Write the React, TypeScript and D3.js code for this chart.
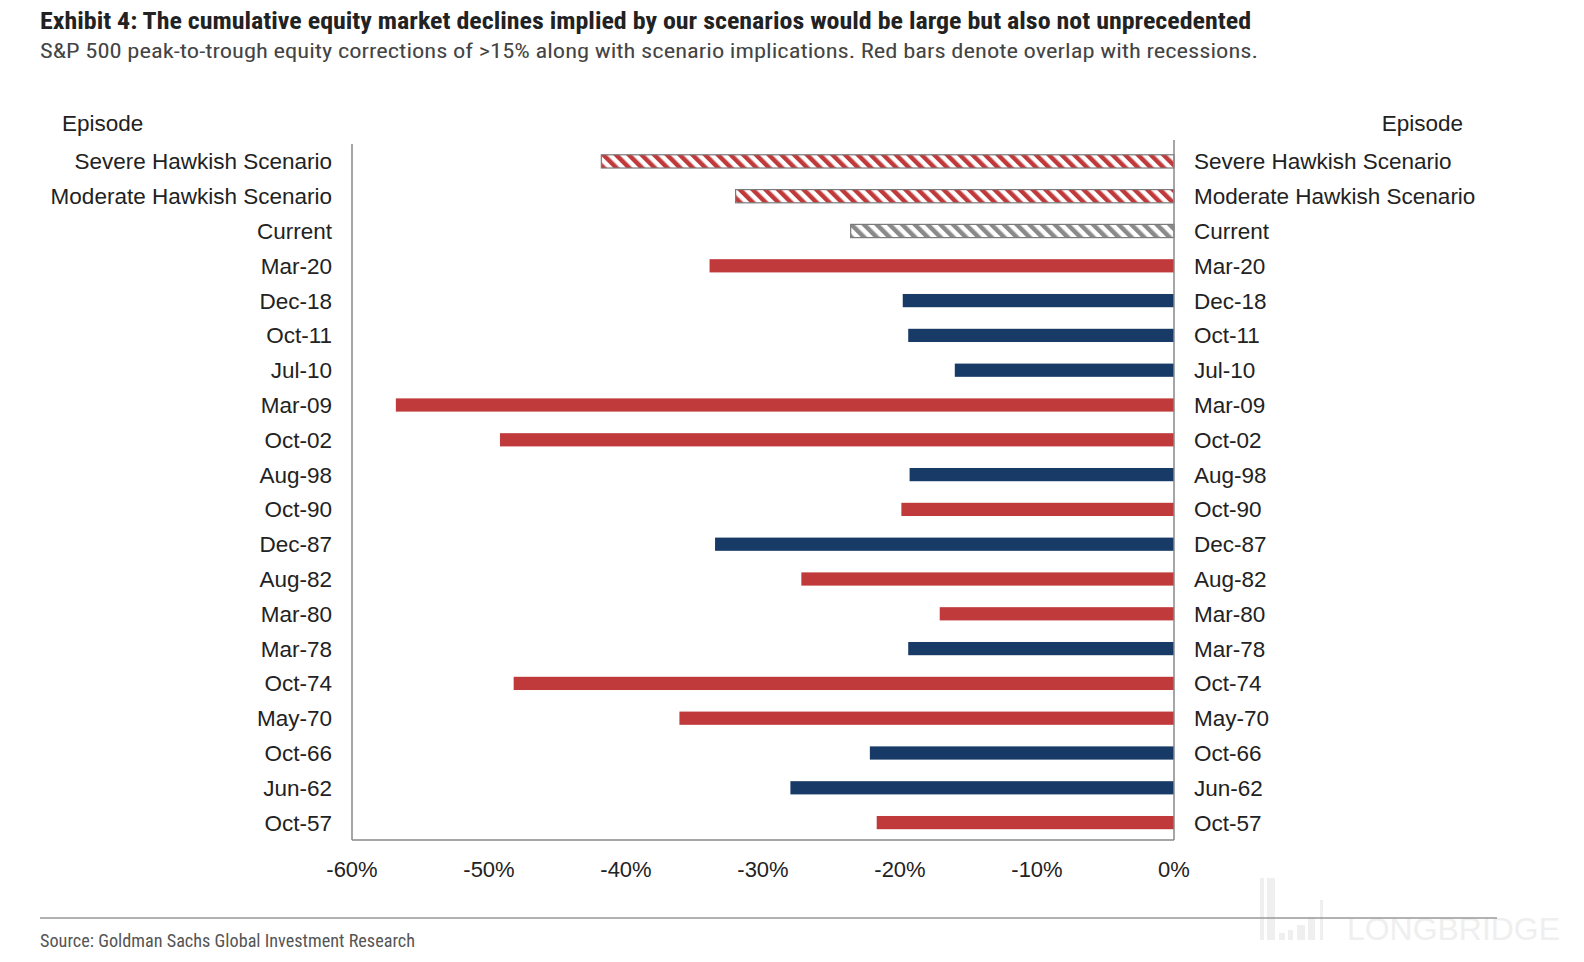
import React from 'react'
import * as d3 from 'd3'

// episodes, top to bottom
const episodes = [
  'Severe Hawkish Scenario', 'Moderate Hawkish Scenario', 'Current',
  'Mar-20', 'Dec-18', 'Oct-11', 'Jul-10', 'Mar-09', 'Oct-02', 'Aug-98',
  'Oct-90', 'Dec-87', 'Aug-82', 'Mar-80', 'Mar-78', 'Oct-74', 'May-70',
  'Oct-66', 'Jun-62', 'Oct-57'
]
// peak-to-trough decline, %
const declines = [
  -41.8, -32.0, -23.6,
  -33.9, -19.8, -19.4, -16.0, -56.8, -49.2, -19.3,
  -19.9, -33.5, -27.2, -17.1, -19.4, -48.2, -36.1,
  -22.2, -28.0, -21.7
]
// kind: scenario (hatched red), current (hatched grey), recession (red), none (navy)
const kinds = [
  'scenario', 'scenario', 'current',
  'recession', 'none', 'none', 'none', 'recession', 'recession', 'none',
  'recession', 'none', 'recession', 'recession', 'none', 'recession', 'recession',
  'none', 'none', 'recession'
]
const xTicks = [-60, -50, -40, -30, -20, -10, 0]

const W = 1584
const H = 962
const plot = { left: 352, right: 1174, top: 144, bottom: 840 }
const RED = '#c0393b'
const NAVY = '#173a66'
const LABEL_FONT = 'Liberation Sans, Arial, sans-serif'
const NARROW_FONT = '"Liberation Sans Narrow", "Roboto Condensed", "DejaVu Sans Condensed", sans-serif'

export default function App() {
  const x = d3.scaleLinear().domain([-60, 0]).range([plot.left, plot.right])
  const y = d3.scaleBand<string>().domain(episodes).range([plot.top, plot.bottom]).paddingInner(0.62).paddingOuter(0.31)
  const bh = y.bandwidth()

  const fillFor = (k: string) =>
    k === 'scenario' ? 'url(#hatchRed)' : k === 'current' ? 'url(#hatchGrey)' : k === 'recession' ? RED : NAVY

  return (
    <div style={{ position: 'fixed', left: 0, top: 0, right: 0, bottom: 0, overflow: 'hidden', background: '#fff' }}>
      <svg width="100%" height="100%" viewBox={`0 0 ${W} ${H}`} preserveAspectRatio="none" style={{ display: 'block' }}>
        <defs>
          <pattern id="hatchRed" patternUnits="userSpaceOnUse" width={9} height={9} patternTransform="rotate(-45)">
            <rect width={9} height={9} fill="#fff" />
            <rect width={4.5} height={9} fill={RED} />
          </pattern>
          <pattern id="hatchGrey" patternUnits="userSpaceOnUse" width={9} height={9} patternTransform="rotate(-45)">
            <rect width={9} height={9} fill="#fff" />
            <rect width={4.5} height={9} fill="#8a8a8a" />
          </pattern>
        </defs>
        <rect width={W} height={H} fill="#fff" />

        {/* title block */}
        <text x={40} y={29} fontFamily={NARROW_FONT} fontWeight="bold" fontSize={24} fill="#222"
          textLength={1211} lengthAdjust="spacingAndGlyphs">
          Exhibit 4: The cumulative equity market declines implied by our scenarios would be large but also not unprecedented
        </text>
        <text x={40} y={58} fontFamily={NARROW_FONT} fontSize={21} fill="#444"
          textLength={1218} lengthAdjust="spacingAndGlyphs">
          S&amp;P 500 peak-to-trough equity corrections of &gt;15% along with scenario implications. Red bars denote overlap with recessions.
        </text>

        {/* watermark */}
        <g fill="#efefef">
          <rect x={1260} y={878} width={4} height={62} />
          <rect x={1267} y={878} width={8} height={62} />
          <rect x={1279} y={933} width={6} height={7} />
          <rect x={1288} y={930} width={5} height={10} />
          <rect x={1297} y={925} width={8} height={15} />
          <rect x={1308} y={917} width={7} height={23} />
          <rect x={1320} y={900} width={3} height={40} />
          <text x={1347} y={940} fontFamily={LABEL_FONT} fontSize={32} textLength={213} lengthAdjust="spacingAndGlyphs">LONGBRIDGE</text>
        </g>

        {/* column headers */}
        <text x={62} y={131} fontFamily={LABEL_FONT} fontSize={22.5} fill="#222">Episode</text>
        <text x={1463} y={131} fontFamily={LABEL_FONT} fontSize={22.5} fill="#222" textAnchor="end">Episode</text>

        {/* bars */}
        {episodes.map((e, i) => {
          const x0 = x(declines[i])
          const yy = y(e) ?? 0
          const k = kinds[i]
          const hatched = k === 'scenario' || k === 'current'
          return (
            <rect key={e} x={x0} y={yy} width={x(0) - x0} height={bh}
              fill={fillFor(k)}
              stroke={hatched ? '#7a7a7a' : 'none'} strokeWidth={hatched ? 1.2 : 0} />
          )
        })}

        {/* axes */}
        <line x1={plot.left} x2={plot.left} y1={plot.top} y2={plot.bottom} stroke="#888" strokeWidth={1.5} />
        <line x1={plot.right} x2={plot.right} y1={plot.top - 4} y2={plot.bottom} stroke="#888" strokeWidth={1.5} />
        <line x1={plot.left} x2={plot.right} y1={plot.bottom} y2={plot.bottom} stroke="#888" strokeWidth={1.5} />

        {/* category labels */}
        {episodes.map(e => {
          const cy = (y(e) ?? 0) + bh / 2 + 8
          return (
            <g key={'l' + e} fontFamily={LABEL_FONT} fontSize={22.5} fill="#222">
              <text x={332} y={cy} textAnchor="end">{e}</text>
              <text x={1194} y={cy}>{e}</text>
            </g>
          )
        })}

        {/* tick labels */}
        {xTicks.map(t => (
          <text key={t} x={x(t)} y={877} textAnchor="middle" fontFamily={LABEL_FONT} fontSize={22} fill="#222">
            {`${t}%`}
          </text>
        ))}

        {/* footer */}
        <line x1={40} x2={1497} y1={918} y2={918} stroke="#999" strokeWidth={1.5} />
        <text x={40} y={947} fontFamily={NARROW_FONT} fontSize={18} fill="#555"
          textLength={375} lengthAdjust="spacingAndGlyphs">
          Source: Goldman Sachs Global Investment Research
        </text>
      </svg>
    </div>
  )
}
